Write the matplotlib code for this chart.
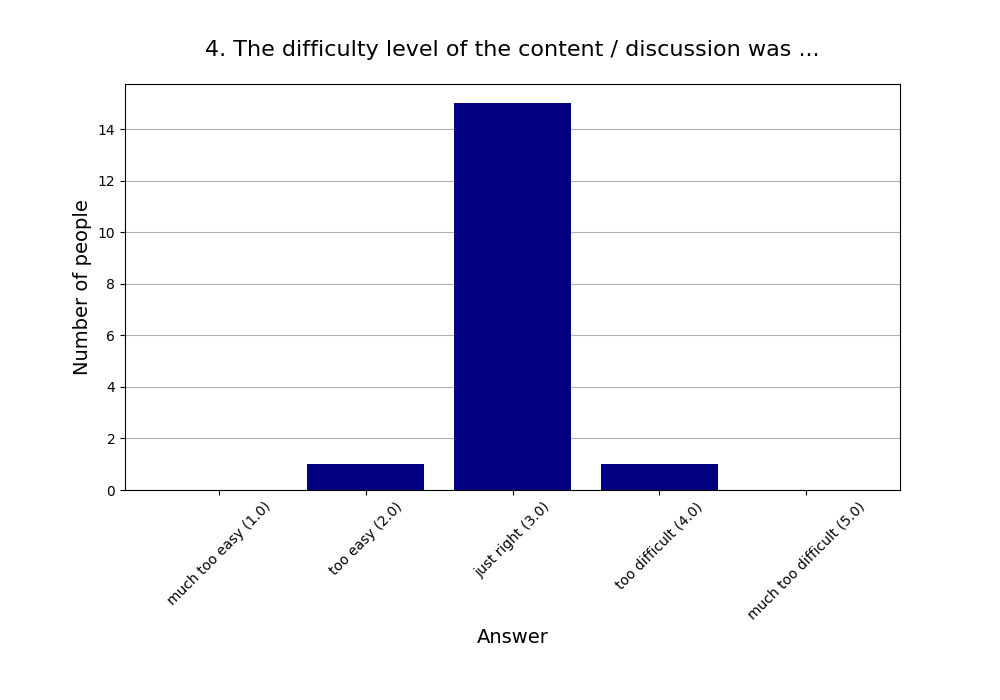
import matplotlib
matplotlib.use("Agg")
import matplotlib.pyplot as plt

answers = ['much too easy (1.0)', 'too easy (2.0)', 'just right (3.0)',
           'too difficult (4.0)', 'much too difficult (5.0)']
counts = [0, 1, 15, 1, 0]

fig = plt.figure(figsize=(10, 7), dpi=100)
fig.subplots_adjust(left=0.125, right=0.9, top=0.88, bottom=0.3)
axis = plt.gca()

# Horizontal grid lines behind the bars.
axis.set_axisbelow(True)
axis.yaxis.grid(True)

positions = range(len(answers))
plt.bar(positions, counts, color='navy', width=0.8)

plt.xticks(positions, answers, rotation=45)
plt.title('4. The difficulty level of the content / discussion was ...',
          fontsize=16, pad=20)
plt.xlabel('Answer', fontsize=14)
plt.ylabel('Number of people', fontsize=14)

plt.savefig('out.png', format='png')
